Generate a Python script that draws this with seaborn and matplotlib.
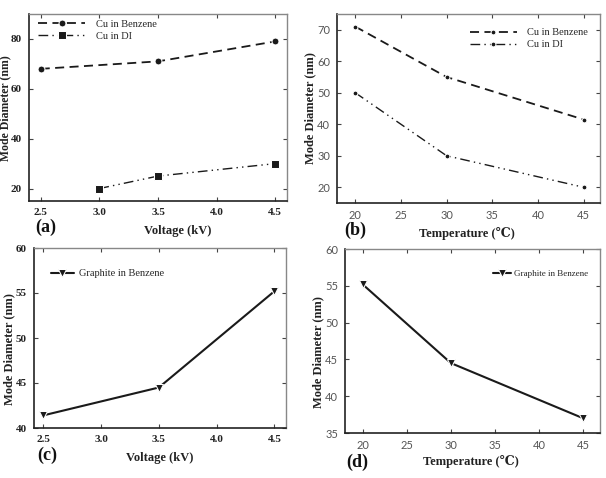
import matplotlib
matplotlib.use("Agg")
import matplotlib.pyplot as plt
import seaborn as sns
import pandas as pd

# ---- data ----
volt_benz = [2.5, 3.5, 4.5]
cu_benz_v = [68, 71, 79]
volt_di = [3.0, 3.5, 4.5]
cu_di_v = [20, 25, 30]

temp = [20, 30, 45]
cu_benz_t = [71, 55, 41.5]
cu_di_t = [50, 30, 20]

volt_g = [2.5, 3.5, 4.5]
gr_benz_v = [41.4, 44.5, 55.2]
temp_g = [20, 30, 45]
gr_benz_t = [55.2, 44.5, 37.0]

volt_ticks = [2.5, 3.0, 3.5, 4.0, 4.5]
temp_ticks = [20, 25, 30, 35, 40, 45]

sns.set_theme(style="ticks")
plt.rcParams['font.family'] = ['Liberation Serif', 'DejaVu Serif']
plt.rcParams['mathtext.fontset'] = 'stix'

fig = plt.figure(figsize=(6.06, 4.78), dpi=100)

W, H = 606, 478
def box(l, t, r, b):
    return [l / W, 1 - b / H, (r - l) / W, (b - t) / H]

axa = fig.add_axes(box(29, 14, 287, 201))
axb = fig.add_axes(box(337, 14, 600, 203))
axc = fig.add_axes(box(34, 248, 286, 428))
axd = fig.add_axes(box(345, 249, 600, 433))

dd = (0, (7, 3, 1, 3, 1, 3))

# (a)
sns.lineplot(x=volt_benz, y=cu_benz_v, ax=axa, color='k', linestyle=(0, (5, 3)),
             marker='o', markersize=5, lw=1.3, label='Cu in Benzene')
sns.lineplot(x=volt_di, y=cu_di_v, ax=axa, color='k', linestyle=dd,
             marker='s', markersize=5.5, lw=1.0, label='Cu in DI')
axa.set_xlim(2.4, 4.6)
axa.set_ylim(15, 90)
axa.set_xticks(volt_ticks)
axa.set_yticks([20, 40, 60, 80])

# (b)
sns.lineplot(x=temp, y=cu_benz_t, ax=axb, color='k', linestyle=(0, (5, 3)),
             marker='o', markersize=3.5, lw=1.3, label='Cu in Benzene')
sns.lineplot(x=temp, y=cu_di_t, ax=axb, color='k', linestyle=dd,
             marker='o', markersize=3.5, lw=1.0, label='Cu in DI')
axb.set_xlim(18, 46.8)
axb.set_ylim(15, 75)
axb.set_xticks(temp_ticks)
axb.set_yticks([20, 30, 40, 50, 60, 70])

# (c)
sns.lineplot(x=volt_g, y=gr_benz_v, ax=axc, color='k', linestyle='-',
             marker='v', markersize=5.5, lw=1.5, label='Graphite in Benzene')
axc.set_xlim(2.42, 4.6)
axc.set_ylim(40, 60)
axc.set_xticks(volt_ticks)
axc.set_yticks([40, 45, 50, 55, 60])

# (d)
sns.lineplot(x=temp_g, y=gr_benz_t, ax=axd, color='k', linestyle='-',
             marker='v', markersize=5.5, lw=1.5, label='Graphite in Benzene')
axd.set_xlim(18, 46.9)
axd.set_ylim(35, 60)
axd.set_xticks(temp_ticks)
axd.set_yticks([35, 40, 45, 50, 55, 60])

for ax, bold in [(axa, True), (axb, False), (axc, True), (axd, False)]:
    ax.tick_params(direction='in', length=3, width=0.8, top=True, right=True,
                   colors='#444444', pad=5)
    for s in ['left', 'bottom']:
        ax.spines[s].set_color('#222222')
        ax.spines[s].set_linewidth(1.2)
    for s in ['top', 'right']:
        ax.spines[s].set_color('#888888')
        ax.spines[s].set_linewidth(1.0)
    for lab in ax.get_xticklabels() + ax.get_yticklabels():
        if bold:
            lab.set_fontweight('bold')
            lab.set_fontsize(8)
            lab.set_color('#222222')
        else:
            lab.set_family(['Lato', 'DejaVu Sans'])
            lab.set_fontsize(8)
            lab.set_color('#555555')
    ax.set_xlabel('')
    ax.set_ylabel('')

# legends
leg_kw = dict(frameon=False, fontsize=7.5, labelspacing=0.25)
axa.legend(loc='upper left', bbox_to_anchor=(0.0, 1.02), handlelength=4.5,
           handletextpad=1.0, **leg_kw)
axb.legend(loc='upper left', bbox_to_anchor=(0.47, 0.975), handlelength=4.5,
           handletextpad=1.0, **leg_kw)
axc.legend(loc='upper left', bbox_to_anchor=(0.03, 0.935), handlelength=2.2,
           handletextpad=0.5, **leg_kw)
axd.legend(loc='upper left', bbox_to_anchor=(0.55, 0.93), handlelength=2.0,
           frameon=False, fontsize=6.5, handletextpad=0.3)

def ftxt(x, y, s, **kw):
    fig.text(x / W, 1 - y / H, s, **kw)

lab_kw = dict(fontsize=9, fontweight='bold', ha='center', va='center', color='#222222')
ylab_kw = dict(fontsize=9, fontweight='bold', ha='center', va='center', rotation=90,
               color='#222222')
ftxt(178, 231, 'Voltage (kV)', **lab_kw)
ftxt(467, 234, 'Temperature (\u2103)', **lab_kw)
ftxt(160, 458, 'Voltage (kV)', **lab_kw)
ftxt(471, 462, 'Temperature (\u2103)', **lab_kw)

ftxt(5, 108, 'Mode Diameter (nm)', **{**ylab_kw, 'fontsize': 8.5})
ftxt(310, 108, 'Mode Diameter (nm)', **ylab_kw)
ftxt(9, 349, 'Mode Diameter (nm)', **ylab_kw)
ftxt(318, 352, 'Mode Diameter (nm)', **ylab_kw)

pan_kw = dict(fontsize=13, fontweight='bold', ha='center', va='center', color='#111111')
ftxt(46, 227, '(a)', **pan_kw)
ftxt(355, 230, '(b)', **pan_kw)
ftxt(47, 455, '(c)', **pan_kw)
ftxt(357, 462, '(d)', **pan_kw)

fig.savefig('out.png', dpi=100)
